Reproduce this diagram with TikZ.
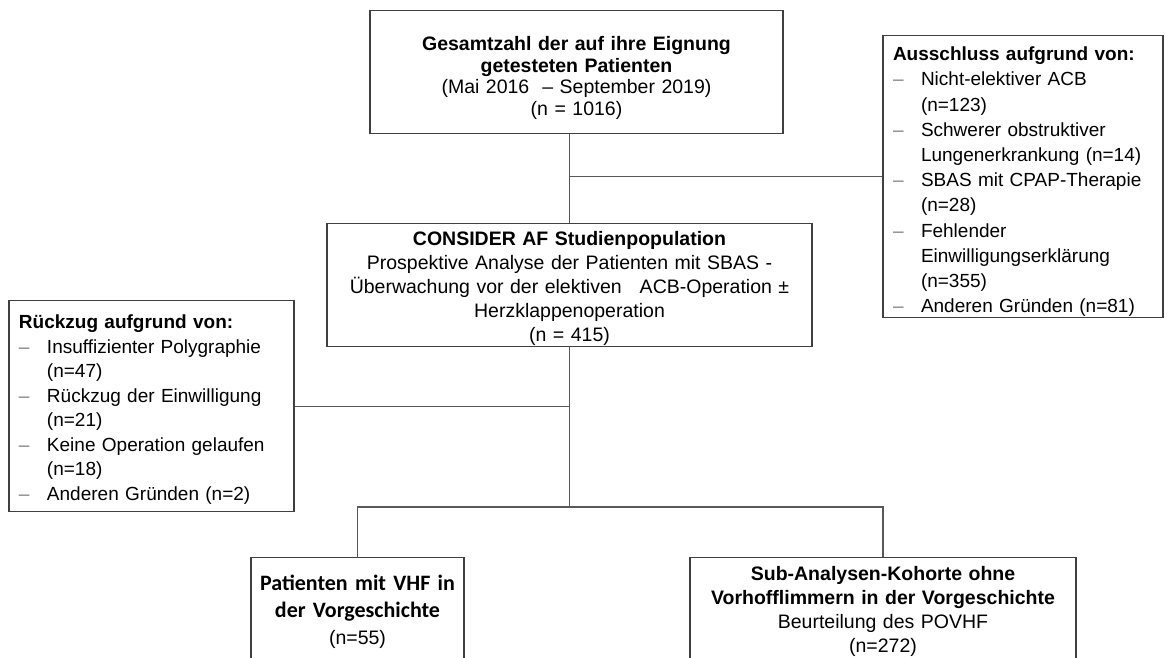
\documentclass[tikz,border=0pt]{standalone}
\usepackage{fontspec}
\setmainfont{Liberation Sans}
\newfontfamily\calibrifont{Carlito}
\usepackage{xcolor}
\usepackage{tikz}

\definecolor{framegray}{HTML}{404040}
\definecolor{linkgray}{HTML}{595959}
\definecolor{dashgray}{HTML}{7F7F7F}

% list lines with a dash and a hanging indent
\newcommand{\dashline}[1]{\makebox[28pt][l]{\textcolor{dashgray}{--}}#1}
\newcommand{\hangline}[1]{\hspace*{28pt}#1}

\begin{document}
\begin{tikzpicture}[x=1pt, y=-1pt,
    box/.style={draw=framegray, line width=1.3pt, inner xsep=10pt, inner ysep=0pt, anchor=north},
    link/.style={draw=linkgray, line width=1.2pt}]
    \useasboundingbox (0,0) rectangle (1165,657);
    \clip (0,0) rectangle (1165,657);

    \node[box, minimum width=413, text width=393, text height=40pt, text depth=83pt, align=center,
        font=\fontsize{19.5}{21.5}\selectfont] (total) at (576.5,10)
        {\textbf{Gesamtzahl der auf ihre Eignung}\\ \textbf{getesteten Patienten}\\
         (Mai 2016 \ -- September 2019)\\ (n = 1016)};

    \node[box, minimum width=280, text width=260, text height=25pt, text depth=257pt, align=left,
        font=\fontsize{19}{25.2}\selectfont] (exclusion) at (1023,35)
        {\textbf{Ausschluss aufgrund von:}\\
         \dashline{Nicht-elektiver ACB}\\ \hangline{(n=123)}\\
         \dashline{Schwerer obstruktiver}\\ \hangline{Lungenerkrankung (n=14)}\\
         \dashline{SBAS mit CPAP-Therapie}\\ \hangline{(n=28)}\\
         \dashline{Fehlender}\\ \hangline{Einwilligungserklärung}\\ \hangline{(n=355)}\\
         \dashline{Anderen Gründen (n=81)}};

    \node[box, minimum width=485, text width=465, text height=22pt, text depth=101pt, align=center,
        font=\fontsize{19.5}{24}\selectfont] (study) at (569.5,223)
        {\textbf{CONSIDER AF Studienpopulation}\\
         Prospektive Analyse der Patienten mit SBAS -\\
         Überwachung vor der elektiven\hspace{18pt}ACB-Operation ±\\
         Herzklappenoperation\\ (n = 415)};

    \node[box, minimum width=285, text width=265, text height=28pt, text depth=183pt, align=left,
        font=\fontsize{19}{24.5}\selectfont] (withdrawal) at (151.5,300)
        {\textbf{Rückzug aufgrund von:}\\
         \dashline{Insuffizienter Polygraphie}\\ \hangline{(n=47)}\\
         \dashline{Rückzug der Einwilligung}\\ \hangline{(n=21)}\\
         \dashline{Keine Operation gelaufen}\\ \hangline{(n=18)}\\
         \dashline{Anderen Gründen (n=2)}};

    \node[box, minimum width=213, text width=205, inner xsep=4pt, inner ysep=5pt,
        text height=28pt, text depth=100pt, align=center,
        font=\fontsize{22}{27}\selectfont\calibrifont\bfseries] (vhf) at (357.5,557)
        {Patienten mit VHF in\\ der Vorgeschichte\\
         {\normalfont\fontsize{19.5}{27}\selectfont (n=55)}};

    \node[box, minimum width=386, text width=366, inner ysep=5pt,
        text height=18pt, text depth=100pt, align=center,
        font=\fontsize{19.5}{24}\selectfont] (subcohort) at (883,557)
        {\textbf{Sub-Analysen-Kohorte ohne}\\ \textbf{Vorhofflimmern in der Vorgeschichte}\\
         Beurteilung des POVHF\\ (n=272)};

    % connectors
    \coordinate (fork) at (569.5,507);
    \draw[link] (total.south -| study.north) -- (study.north);
    \draw[link] (exclusion.west -| study.north) -- (exclusion.west);
    \draw[link] (withdrawal.east) -- (withdrawal.east -| study.south);
    \draw[link] (study.south) -- (fork);
    \draw[link] (vhf.north) |- (fork) -| (subcohort.north);
\end{tikzpicture}
\end{document}
